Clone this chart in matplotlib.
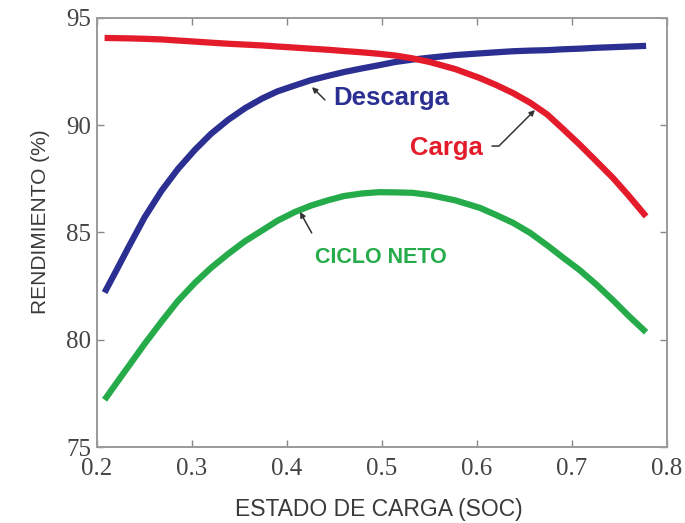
import matplotlib
matplotlib.use("Agg")
import matplotlib.pyplot as plt
from matplotlib import font_manager

soc = [0.208, 0.22, 0.233, 0.25, 0.268, 0.285, 0.303, 0.32, 0.338, 0.356, 0.374, 0.39, 0.408,
       0.425, 0.443, 0.46, 0.479, 0.497, 0.514, 0.532, 0.55, 0.577, 0.603, 0.62, 0.638, 0.656,
       0.674, 0.69, 0.708, 0.725, 0.743, 0.76, 0.778]
descarga = [82.2, 83.2, 84.3, 85.7, 86.95, 87.95, 88.85, 89.6, 90.25, 90.8, 91.25, 91.58, 91.85,
            92.1, 92.3, 92.48, 92.65, 92.8, 92.95, 93.06, 93.15, 93.27, 93.35, 93.4, 93.45, 93.48,
            93.5, 93.54, 93.57, 93.61, 93.64, 93.67, 93.7]
carga = [94.07, 94.06, 94.05, 94.03, 94.0, 93.95, 93.9, 93.85, 93.8, 93.76, 93.72, 93.67, 93.62,
         93.57, 93.52, 93.46, 93.4, 93.33, 93.25, 93.12, 92.95, 92.62, 92.2, 91.88, 91.5, 91.05,
         90.5, 89.85, 89.1, 88.35, 87.55, 86.7, 85.75]
ciclo = [77.2, 77.95, 78.75, 79.8, 80.85, 81.8, 82.65, 83.35, 84.0, 84.6, 85.1, 85.55, 85.95,
         86.25, 86.5, 86.7, 86.82, 86.88, 86.87, 86.85, 86.75, 86.5, 86.15, 85.82, 85.45, 84.98,
         84.4, 83.85, 83.25, 82.6, 81.85, 81.1, 80.35]

BLUE = "#2b2f92"
RED = "#e31b2a"
GREEN = "#25ab4a"
GRAY_TXT = "#3a3a3a"

installed = {f.name for f in font_manager.fontManager.ttflist}
if "Liberation Sans Narrow" in installed:
    LAB_FAM, XLAB_SIZE, YLAB_SIZE = "Liberation Sans Narrow", 20, 18.5
else:
    LAB_FAM, XLAB_SIZE, YLAB_SIZE = "Liberation Sans", 16.5, 15

fig = plt.figure(figsize=(6.85, 5.23), dpi=100)
ax = fig.add_axes([0.1416, 0.1453, 0.8321, 0.8203])

for vals, col in ((descarga, BLUE), (carga, RED), (ciclo, GREEN)):
    ax.plot(soc, vals, color=col, lw=4.5, solid_capstyle="butt", solid_joinstyle="round")

ax.set_xlim(0.2, 0.8)
ax.set_ylim(75, 95)
ax.set_xticks([0.2, 0.3, 0.4, 0.5, 0.6, 0.7, 0.8])
ax.set_xticklabels(["0.2", "0.3", "0.4", "0.5", "0.6", "0.7", "0.8"])
ax.set_yticks([75, 80, 85, 90, 95])
ax.tick_params(direction="in", top=True, right=True, length=5, width=1, color="#888888",
               labelsize=18, labelcolor="#444444")
ax.tick_params(axis="x", pad=8)
ax.tick_params(axis="y", pad=4)
for lab in ax.get_xticklabels() + ax.get_yticklabels():
    lab.set_family("Liberation Serif")
for s in ax.spines.values():
    s.set_color("#9a9a9a")
    s.set_linewidth(1.4)

ax.set_xlabel("ESTADO DE CARGA (SOC)", family=LAB_FAM, fontsize=XLAB_SIZE, color=GRAY_TXT)
ax.set_ylabel("RENDIMIENTO (%)", family=LAB_FAM, fontsize=YLAB_SIZE, color=GRAY_TXT)
ax.xaxis.set_label_coords(0.494, -0.12)
ax.yaxis.set_label_coords(-0.0825, 0.526)

arrow = dict(arrowstyle="-|>", color="#333333", lw=1.1, mutation_scale=8, shrinkA=0, shrinkB=0)

ax.text(0.4484, 91.26, "Descarga", fontsize=18.5, fontweight="bold", color=BLUE,
        family="Liberation Sans", va="center", ha="left")
ax.annotate("", xy=(0.4263, 91.78), xytext=(0.44, 91.18), arrowprops=arrow)

ax.text(0.6063, 88.95, "Carga", fontsize=18.5, fontweight="bold", color=RED,
        family="Liberation Sans", va="center", ha="right")
ax.annotate("", xy=(0.661, 90.71), xytext=(0.6158, 89.03),
            arrowprops=dict(arrowstyle="-|>", color="#333333", lw=1.1, mutation_scale=8,
                            shrinkA=0, shrinkB=0,
                            connectionstyle="angle,angleA=0,angleB=45,rad=0"))

ax.text(0.4295, 83.83, "CICLO NETO", fontsize=15.5, fontweight="bold", color=GREEN,
        family="Liberation Sans", va="center", ha="left")
ax.annotate("", xy=(0.4137, 85.96), xytext=(0.426, 84.98), arrowprops=arrow)

fig.savefig("out.png", dpi=100)
